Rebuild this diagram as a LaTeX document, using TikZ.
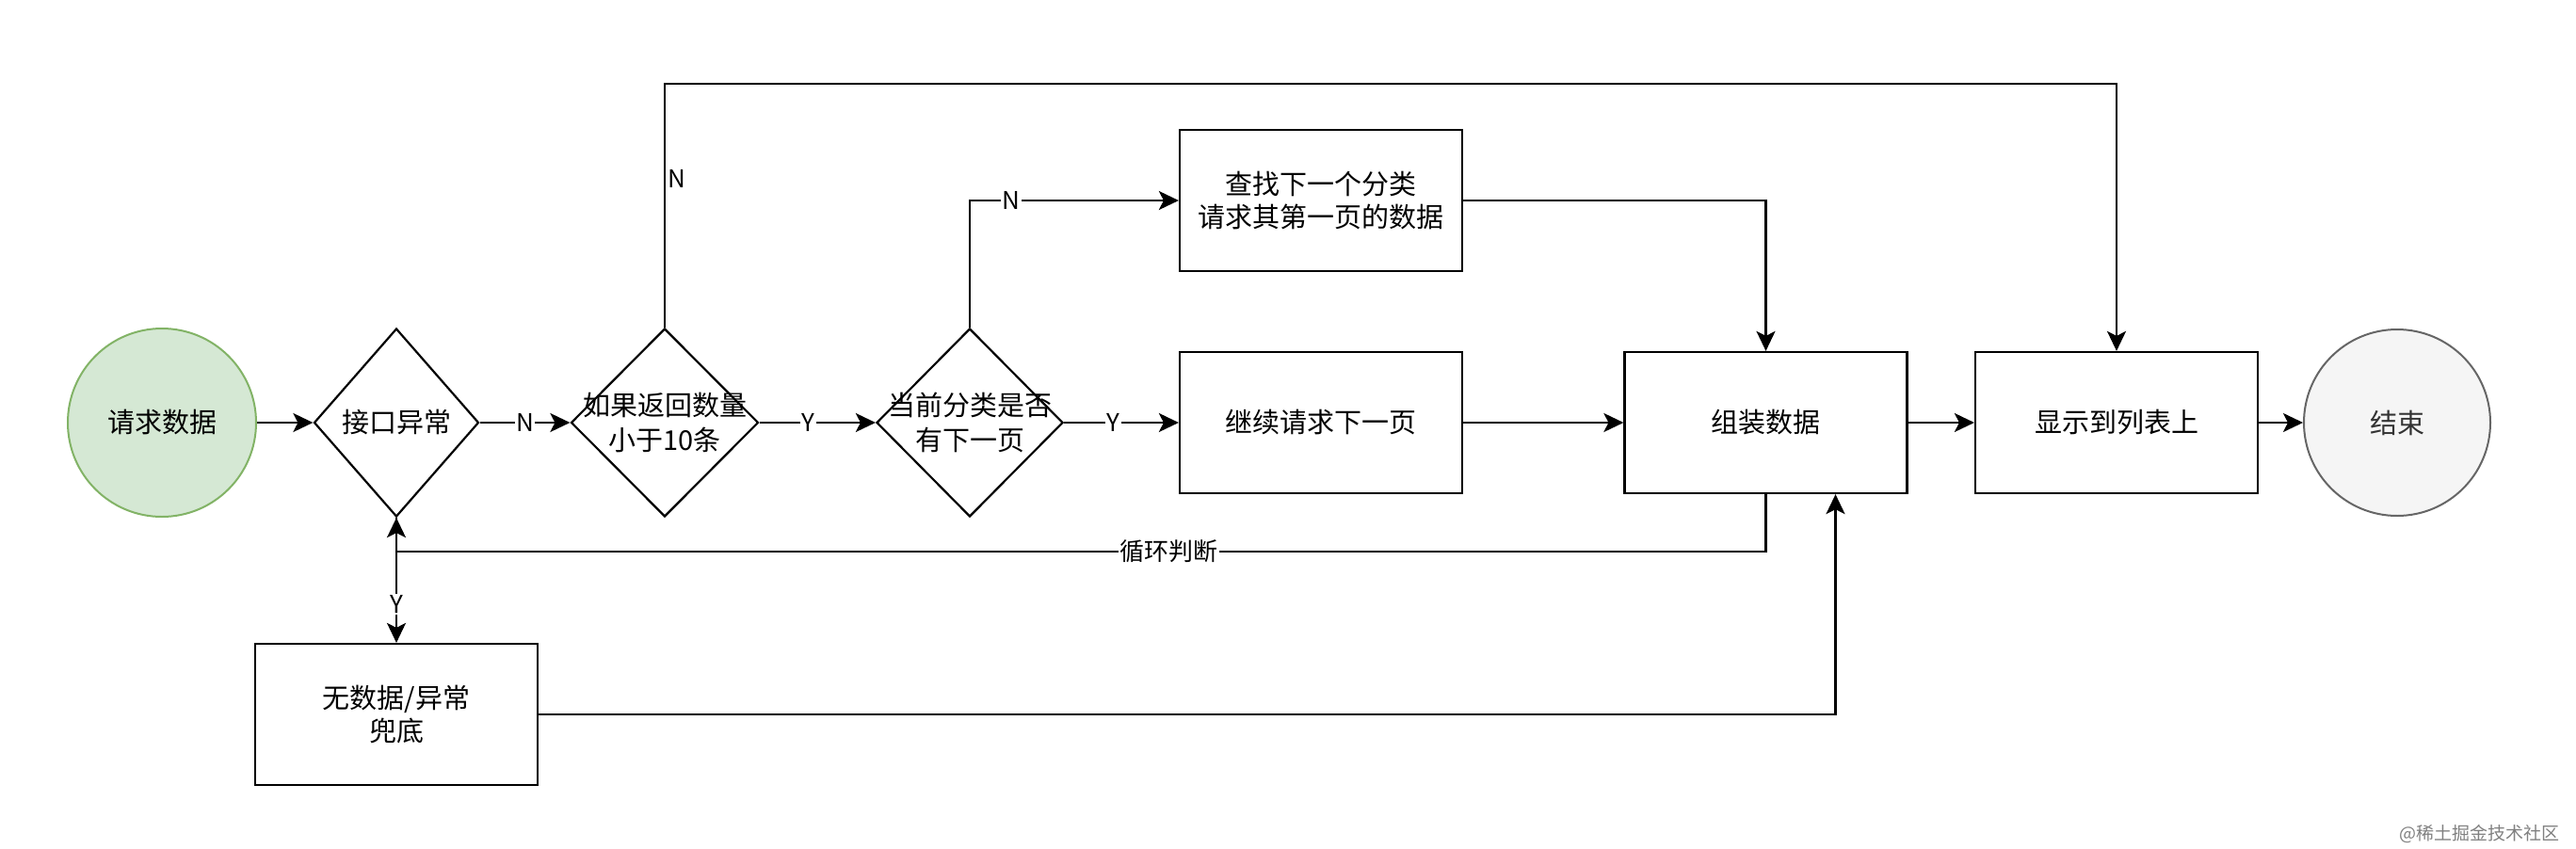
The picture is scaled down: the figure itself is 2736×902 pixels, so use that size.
\documentclass[tikz,border=0pt]{standalone}
\usepackage{fontspec}
\setmainfont{Noto Sans CJK SC}
\usetikzlibrary{shapes.geometric,arrows.meta,calc}
\definecolor{startfill}{HTML}{D5E8D4}
\definecolor{startline}{HTML}{82B366}
\definecolor{endfill}{HTML}{F5F5F5}
\definecolor{endline}{HTML}{666666}
\definecolor{endtext}{HTML}{333333}
\tikzset{
  every node/.style={font=\fontsize{29pt}{36pt}\selectfont, align=center},
  ln/.style={line width=2.2pt, black},
  arr/.style={ln, -{Stealth[length=21pt,width=20pt,inset=5pt]}},
  stepbox/.style={draw, line width=2.2pt, minimum width=300pt, minimum height=150pt, inner sep=0pt},
  decision/.style={draw, shape=diamond, line width=2.2pt, inner sep=0pt, minimum width=#1, minimum height=200pt},
  decision/.default=199pt,
  edgelbl/.style={fill=white, inner sep=1.5pt, font=\fontsize{26pt}{30pt}\selectfont},
}
\begin{document}
\begin{tikzpicture}[x=1pt,y=-1pt]
\useasboundingbox (0,0) rectangle (2736,902);
% nodes
\node[circle, draw=startline, fill=startfill, line width=2pt, minimum size=200pt, inner sep=0pt] (start) at (172,449) {请求数据};
\node[decision=175pt, label={center:接口异常}] (d1) at (421,449) {};
\node[decision=199pt, label={[font=\fontsize{29pt}{37pt}\selectfont, align=center]center:如果返回数量\\小于10条}] (d2) at (706,449) {};
\node[decision=198pt, label={[font=\fontsize{29pt}{37pt}\selectfont, align=center]center:当前分类是否\\有下一页}] (d3) at (1030,449) {};
\node[stepbox, font=\fontsize{29pt}{35pt}\selectfont] (find) at (1403,213) {查找下一个分类\\请求其第一页的数据};
\node[stepbox] (cont) at (1403,449) {继续请求下一页};
\node[stepbox] (asm) at (1875.5,449) {组装数据};
\node[stepbox] (show) at (2248,449) {显示到列表上};
\node[circle, draw=endline, fill=endfill, line width=2pt, minimum size=198pt, inner sep=0pt, text=endtext] (end) at (2546,449) {结束};
\node[stepbox, font=\fontsize{29pt}{35pt}\selectfont] (fb) at (421,759) {无数据/异常\\兜底};
\node[text=gray, font=\fontsize{19pt}{22pt}\selectfont, anchor=east] (wm) at (2722,886) {@稀土掘金技术社区};
% helper coordinates
\coordinate (tl) at (706,89);
\coordinate (tr) at (2248,89);
\coordinate (lp) at (1875.5,586);
\coordinate (fbin) at ($(asm.south)+(74,0)$);
% connectors
\draw[arr] (start) -- (d1);
\draw[arr] (d1.east) -- node[edgelbl]{N} (d2.west);
\draw[arr] (d2.east) -- node[edgelbl, pos=0.42]{Y} (d3.west);
\draw[arr] (d3.east) -- node[edgelbl, pos=0.43]{Y} (cont.west);
\draw[arr] (d3.north) |- node[edgelbl, pos=0.6]{N} (find.west);
\draw[arr] (find.east) -| (asm.north);
\draw[arr] (cont.east) -- (asm.west);
\draw[arr] (asm.east) -- (show.west);
\draw[arr] (show.east) -- (end.west);
\draw[arr] (d2.north) -- node[pos=0.61, anchor=west, inner sep=2pt, font=\fontsize{26pt}{30pt}\selectfont]{N} (tl) -- (tr) -- (show.north);
\draw[arr] (asm.south) -- (lp) -| node[edgelbl, pos=0.218]{循环判断} (d1.south);
\draw[arr] (d1.south) -- node[edgelbl, pos=0.69]{Y} (fb.north);
\draw[arr] (fb.east) -| (fbin);
\end{tikzpicture}
\end{document}
